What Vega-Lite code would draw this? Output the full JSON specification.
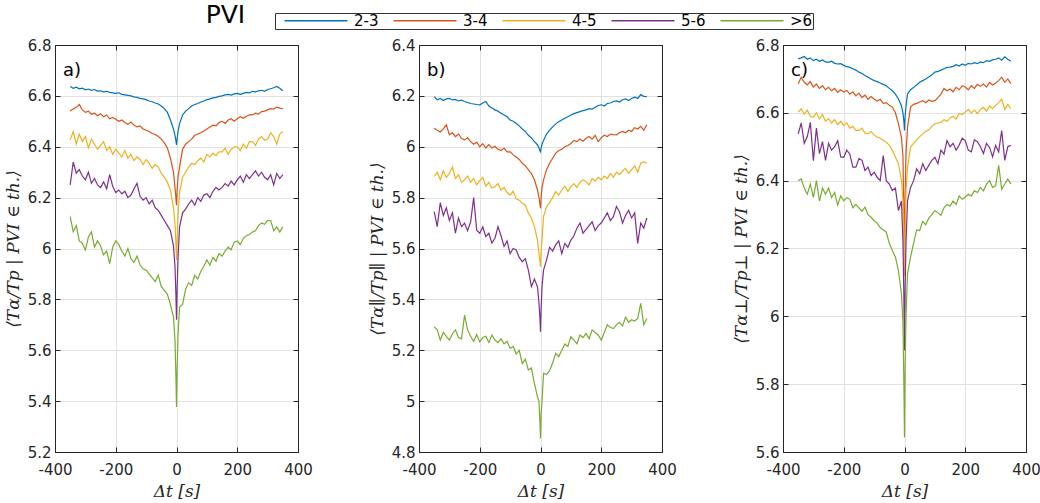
{
  "$schema": "https://vega.github.io/schema/vega-lite/v6.json",
  "background": "white",
  "padding": {"left": 3, "top": 2, "right": 2, "bottom": 2},
  "title": {"text": "PVI", "anchor": "start", "dx": 202, "dy": 15, "offset": 0, "fontSize": 25, "font": "DejaVu Sans", "fontWeight": "normal", "color": "black"},
  "data": {"values": [
{"p":"a","t":-350,"2-3":6.637,"3-4":6.541,"4-5":6.427,"5-6":6.25,">6":6.125},
{"p":"a","t":-340,"2-3":6.63,"3-4":6.548,"4-5":6.46,"5-6":6.34,">6":6.066},
{"p":"a","t":-330,"2-3":6.634,"3-4":6.555,"4-5":6.41,"5-6":6.296,">6":6.09},
{"p":"a","t":-320,"2-3":6.628,"3-4":6.566,"4-5":6.45,"5-6":6.31,">6":6.03},
{"p":"a","t":-310,"2-3":6.63,"3-4":6.545,"4-5":6.42,"5-6":6.285,">6":6.02},
{"p":"a","t":-300,"2-3":6.624,"3-4":6.535,"4-5":6.44,"5-6":6.27,">6":5.994},
{"p":"a","t":-290,"2-3":6.627,"3-4":6.54,"4-5":6.395,"5-6":6.3,">6":6.045},
{"p":"a","t":-280,"2-3":6.622,"3-4":6.528,"4-5":6.43,"5-6":6.256,">6":6.065},
{"p":"a","t":-270,"2-3":6.625,"3-4":6.532,"4-5":6.41,"5-6":6.275,">6":6.005},
{"p":"a","t":-260,"2-3":6.619,"3-4":6.522,"4-5":6.39,"5-6":6.25,">6":6.03},
{"p":"a","t":-250,"2-3":6.62,"3-4":6.53,"4-5":6.405,"5-6":6.24,">6":6.01},
{"p":"a","t":-240,"2-3":6.616,"3-4":6.518,"4-5":6.42,"5-6":6.262,">6":5.975},
{"p":"a","t":-230,"2-3":6.618,"3-4":6.525,"4-5":6.385,"5-6":6.235,">6":5.99},
{"p":"a","t":-220,"2-3":6.614,"3-4":6.51,"4-5":6.4,"5-6":6.29,">6":5.94},
{"p":"a","t":-210,"2-3":6.612,"3-4":6.515,"4-5":6.37,"5-6":6.245,">6":6.005},
{"p":"a","t":-200,"2-3":6.61,"3-4":6.508,"4-5":6.39,"5-6":6.22,">6":6.03},
{"p":"a","t":-190,"2-3":6.612,"3-4":6.5,"4-5":6.375,"5-6":6.23,">6":6.015},
{"p":"a","t":-180,"2-3":6.606,"3-4":6.505,"4-5":6.36,"5-6":6.215,">6":5.99},
{"p":"a","t":-170,"2-3":6.604,"3-4":6.495,"4-5":6.385,"5-6":6.225,">6":5.97},
{"p":"a","t":-160,"2-3":6.602,"3-4":6.488,"4-5":6.355,"5-6":6.2,">6":6.0},
{"p":"a","t":-150,"2-3":6.6,"3-4":6.497,"4-5":6.37,"5-6":6.21,">6":5.96},
{"p":"a","t":-140,"2-3":6.596,"3-4":6.485,"4-5":6.345,"5-6":6.235,">6":5.945},
{"p":"a","t":-130,"2-3":6.594,"3-4":6.478,"4-5":6.36,"5-6":6.256,">6":5.97},
{"p":"a","t":-120,"2-3":6.59,"3-4":6.482,"4-5":6.35,"5-6":6.205,">6":5.935},
{"p":"a","t":-110,"2-3":6.588,"3-4":6.47,"4-5":6.33,"5-6":6.19,">6":5.92},
{"p":"a","t":-100,"2-3":6.585,"3-4":6.465,"4-5":6.35,"5-6":6.2,">6":5.915},
{"p":"a","t":-90,"2-3":6.58,"3-4":6.46,"4-5":6.335,"5-6":6.175,">6":5.9},
{"p":"a","t":-80,"2-3":6.577,"3-4":6.452,"4-5":6.315,"5-6":6.19,">6":5.885},
{"p":"a","t":-70,"2-3":6.572,"3-4":6.448,"4-5":6.33,"5-6":6.16,">6":5.87},
{"p":"a","t":-60,"2-3":6.568,"3-4":6.44,"4-5":6.32,"5-6":6.15,">6":5.895},
{"p":"a","t":-50,"2-3":6.56,"3-4":6.43,"4-5":6.295,"5-6":6.13,">6":5.85},
{"p":"a","t":-40,"2-3":6.55,"3-4":6.415,"4-5":6.28,"5-6":6.11,">6":5.835},
{"p":"a","t":-30,"2-3":6.535,"3-4":6.395,"4-5":6.26,"5-6":6.09,">6":5.82},
{"p":"a","t":-20,"2-3":6.505,"3-4":6.355,"4-5":6.23,"5-6":6.07,">6":5.78},
{"p":"a","t":-10,"2-3":6.47,"3-4":6.3,"4-5":6.16,"5-6":6.01,">6":5.73},
{"p":"a","t":-5,"2-3":6.445,"3-4":6.24,"4-5":6.1,"5-6":5.93,">6":5.64},
{"p":"a","t":-2,"2-3":6.425,"3-4":6.2,"4-5":6.02,"5-6":5.82,">6":5.5},
{"p":"a","t":0,"2-3":6.407,"3-4":6.17,"4-5":5.955,"5-6":5.72,">6":5.377},
{"p":"a","t":2,"2-3":6.43,"3-4":6.23,"4-5":6.03,"5-6":5.84,">6":5.52},
{"p":"a","t":5,"2-3":6.46,"3-4":6.28,"4-5":6.13,"5-6":5.96,">6":5.66},
{"p":"a","t":10,"2-3":6.49,"3-4":6.32,"4-5":6.22,"5-6":6.085,">6":5.77},
{"p":"a","t":20,"2-3":6.525,"3-4":6.39,"4-5":6.28,"5-6":6.14,">6":5.78},
{"p":"a","t":30,"2-3":6.54,"3-4":6.41,"4-5":6.3,"5-6":6.155,">6":5.84},
{"p":"a","t":40,"2-3":6.55,"3-4":6.42,"4-5":6.32,"5-6":6.175,">6":5.865},
{"p":"a","t":50,"2-3":6.56,"3-4":6.43,"4-5":6.335,"5-6":6.19,">6":5.855},
{"p":"a","t":60,"2-3":6.566,"3-4":6.445,"4-5":6.33,"5-6":6.17,">6":5.895},
{"p":"a","t":70,"2-3":6.57,"3-4":6.45,"4-5":6.345,"5-6":6.2,">6":5.88},
{"p":"a","t":80,"2-3":6.576,"3-4":6.455,"4-5":6.355,"5-6":6.185,">6":5.91},
{"p":"a","t":90,"2-3":6.58,"3-4":6.462,"4-5":6.34,"5-6":6.21,">6":5.93},
{"p":"a","t":100,"2-3":6.585,"3-4":6.47,"4-5":6.37,"5-6":6.215,">6":5.955},
{"p":"a","t":110,"2-3":6.588,"3-4":6.478,"4-5":6.36,"5-6":6.2,">6":5.935},
{"p":"a","t":120,"2-3":6.592,"3-4":6.485,"4-5":6.375,"5-6":6.225,">6":5.965},
{"p":"a","t":130,"2-3":6.594,"3-4":6.482,"4-5":6.365,"5-6":6.24,">6":5.95},
{"p":"a","t":140,"2-3":6.598,"3-4":6.495,"4-5":6.38,"5-6":6.23,">6":5.98},
{"p":"a","t":150,"2-3":6.6,"3-4":6.5,"4-5":6.38,"5-6":6.24,">6":5.97},
{"p":"a","t":160,"2-3":6.604,"3-4":6.492,"4-5":6.395,"5-6":6.255,">6":5.99},
{"p":"a","t":170,"2-3":6.606,"3-4":6.505,"4-5":6.37,"5-6":6.245,">6":6.005},
{"p":"a","t":180,"2-3":6.603,"3-4":6.51,"4-5":6.39,"5-6":6.265,">6":5.995},
{"p":"a","t":190,"2-3":6.608,"3-4":6.5,"4-5":6.4,"5-6":6.25,">6":6.025},
{"p":"a","t":200,"2-3":6.61,"3-4":6.51,"4-5":6.4,"5-6":6.27,">6":6.03},
{"p":"a","t":210,"2-3":6.606,"3-4":6.518,"4-5":6.385,"5-6":6.285,">6":6.015},
{"p":"a","t":220,"2-3":6.61,"3-4":6.512,"4-5":6.41,"5-6":6.26,">6":6.04},
{"p":"a","t":230,"2-3":6.614,"3-4":6.52,"4-5":6.395,"5-6":6.29,">6":6.05},
{"p":"a","t":240,"2-3":6.612,"3-4":6.525,"4-5":6.42,"5-6":6.275,">6":6.055},
{"p":"a","t":250,"2-3":6.618,"3-4":6.525,"4-5":6.42,"5-6":6.29,">6":6.065},
{"p":"a","t":260,"2-3":6.616,"3-4":6.532,"4-5":6.405,"5-6":6.305,">6":6.07},
{"p":"a","t":270,"2-3":6.62,"3-4":6.528,"4-5":6.43,"5-6":6.285,">6":6.09},
{"p":"a","t":280,"2-3":6.622,"3-4":6.538,"4-5":6.44,"5-6":6.3,">6":6.1},
{"p":"a","t":290,"2-3":6.618,"3-4":6.54,"4-5":6.425,"5-6":6.28,">6":6.095},
{"p":"a","t":300,"2-3":6.625,"3-4":6.545,"4-5":6.43,"5-6":6.27,">6":6.11},
{"p":"a","t":310,"2-3":6.628,"3-4":6.55,"4-5":6.455,"5-6":6.29,">6":6.11},
{"p":"a","t":320,"2-3":6.632,"3-4":6.548,"4-5":6.44,"5-6":6.25,">6":6.07},
{"p":"a","t":330,"2-3":6.637,"3-4":6.556,"4-5":6.41,"5-6":6.295,">6":6.085},
{"p":"a","t":340,"2-3":6.63,"3-4":6.552,"4-5":6.45,"5-6":6.275,">6":6.065},
{"p":"a","t":350,"2-3":6.62,"3-4":6.55,"4-5":6.46,"5-6":6.29,">6":6.085},
{"p":"b","t":-350,"2-3":6.197,"3-4":6.073,"4-5":5.883,"5-6":5.745,">6":5.292},
{"p":"b","t":-340,"2-3":6.185,"3-4":6.065,"4-5":5.9,"5-6":5.686,">6":5.28},
{"p":"b","t":-330,"2-3":6.19,"3-4":6.058,"4-5":5.87,"5-6":5.78,">6":5.24},
{"p":"b","t":-320,"2-3":6.182,"3-4":6.07,"4-5":5.905,"5-6":5.73,">6":5.27},
{"p":"b","t":-310,"2-3":6.188,"3-4":6.086,"4-5":5.88,"5-6":5.76,">6":5.255},
{"p":"b","t":-300,"2-3":6.19,"3-4":6.047,"4-5":5.895,"5-6":5.71,">6":5.24},
{"p":"b","t":-290,"2-3":6.184,"3-4":6.055,"4-5":5.92,"5-6":5.74,">6":5.265},
{"p":"b","t":-280,"2-3":6.186,"3-4":6.04,"4-5":5.875,"5-6":5.66,">6":5.28},
{"p":"b","t":-270,"2-3":6.18,"3-4":6.05,"4-5":5.89,"5-6":5.72,">6":5.25},
{"p":"b","t":-260,"2-3":6.183,"3-4":6.032,"4-5":5.86,"5-6":5.686,">6":5.245},
{"p":"b","t":-250,"2-3":6.178,"3-4":6.027,"4-5":5.87,"5-6":5.7,">6":5.338},
{"p":"b","t":-240,"2-3":6.174,"3-4":6.035,"4-5":5.885,"5-6":5.67,">6":5.28},
{"p":"b","t":-230,"2-3":6.17,"3-4":6.02,"4-5":5.86,"5-6":5.705,">6":5.255},
{"p":"b","t":-220,"2-3":6.168,"3-4":6.01,"4-5":5.875,"5-6":5.8,">6":5.235},
{"p":"b","t":-210,"2-3":6.166,"3-4":6.018,"4-5":5.85,"5-6":5.672,">6":5.262},
{"p":"b","t":-200,"2-3":6.165,"3-4":6.0,"4-5":5.867,"5-6":5.66,">6":5.233},
{"p":"b","t":-190,"2-3":6.172,"3-4":6.012,"4-5":5.88,"5-6":5.685,">6":5.25},
{"p":"b","t":-180,"2-3":6.178,"3-4":5.995,"4-5":5.845,"5-6":5.647,">6":5.255},
{"p":"b","t":-170,"2-3":6.16,"3-4":6.008,"4-5":5.86,"5-6":5.66,">6":5.23},
{"p":"b","t":-160,"2-3":6.152,"3-4":5.995,"4-5":5.838,"5-6":5.621,">6":5.26},
{"p":"b","t":-150,"2-3":6.145,"3-4":6.002,"4-5":5.843,"5-6":5.64,">6":5.24},
{"p":"b","t":-140,"2-3":6.14,"3-4":5.99,"4-5":5.855,"5-6":5.686,">6":5.23},
{"p":"b","t":-130,"2-3":6.132,"3-4":5.985,"4-5":5.83,"5-6":5.65,">6":5.245},
{"p":"b","t":-120,"2-3":6.125,"3-4":5.995,"4-5":5.84,"5-6":5.608,">6":5.225},
{"p":"b","t":-110,"2-3":6.118,"3-4":5.98,"4-5":5.82,"5-6":5.63,">6":5.235},
{"p":"b","t":-100,"2-3":6.105,"3-4":5.98,"4-5":5.81,"5-6":5.58,">6":5.207},
{"p":"b","t":-90,"2-3":6.1,"3-4":5.968,"4-5":5.825,"5-6":5.6,">6":5.215},
{"p":"b","t":-80,"2-3":6.092,"3-4":5.96,"4-5":5.795,"5-6":5.594,">6":5.185},
{"p":"b","t":-70,"2-3":6.082,"3-4":5.95,"4-5":5.79,"5-6":5.565,">6":5.2},
{"p":"b","t":-60,"2-3":6.07,"3-4":5.935,"4-5":5.778,"5-6":5.548,">6":5.148},
{"p":"b","t":-50,"2-3":6.06,"3-4":5.925,"4-5":5.77,"5-6":5.56,">6":5.165},
{"p":"b","t":-40,"2-3":6.045,"3-4":5.91,"4-5":5.74,"5-6":5.515,">6":5.122},
{"p":"b","t":-30,"2-3":6.035,"3-4":5.895,"4-5":5.72,"5-6":5.45,">6":5.13},
{"p":"b","t":-20,"2-3":6.02,"3-4":5.87,"4-5":5.686,"5-6":5.48,">6":5.07},
{"p":"b","t":-10,"2-3":6.008,"3-4":5.83,"4-5":5.633,"5-6":5.45,">6":5.017},
{"p":"b","t":-5,"2-3":5.995,"3-4":5.8,"4-5":5.58,"5-6":5.385,">6":5.0},
{"p":"b","t":-2,"2-3":5.985,"3-4":5.775,"4-5":5.55,"5-6":5.33,">6":4.92},
{"p":"b","t":0,"2-3":5.98,"3-4":5.758,"4-5":5.528,"5-6":5.273,">6":4.853},
{"p":"b","t":2,"2-3":5.995,"3-4":5.8,"4-5":5.59,"5-6":5.36,">6":4.95},
{"p":"b","t":5,"2-3":6.01,"3-4":5.84,"4-5":5.633,"5-6":5.45,">6":5.0},
{"p":"b","t":10,"2-3":6.025,"3-4":5.87,"4-5":5.725,"5-6":5.515,">6":5.109},
{"p":"b","t":20,"2-3":6.05,"3-4":5.91,"4-5":5.765,"5-6":5.555,">6":5.105},
{"p":"b","t":30,"2-3":6.065,"3-4":5.935,"4-5":5.78,"5-6":5.605,">6":5.12},
{"p":"b","t":40,"2-3":6.078,"3-4":5.955,"4-5":5.8,"5-6":5.59,">6":5.15},
{"p":"b","t":50,"2-3":6.09,"3-4":5.975,"4-5":5.824,"5-6":5.614,">6":5.188},
{"p":"b","t":60,"2-3":6.098,"3-4":5.985,"4-5":5.81,"5-6":5.63,">6":5.175},
{"p":"b","t":70,"2-3":6.105,"3-4":5.99,"4-5":5.83,"5-6":5.58,">6":5.2},
{"p":"b","t":80,"2-3":6.112,"3-4":6.0,"4-5":5.845,"5-6":5.62,">6":5.225},
{"p":"b","t":90,"2-3":6.118,"3-4":6.005,"4-5":5.825,"5-6":5.605,">6":5.215},
{"p":"b","t":100,"2-3":6.125,"3-4":6.013,"4-5":5.843,"5-6":5.633,">6":5.253},
{"p":"b","t":110,"2-3":6.13,"3-4":6.025,"4-5":5.855,"5-6":5.65,">6":5.24},
{"p":"b","t":120,"2-3":6.134,"3-4":6.02,"4-5":5.84,"5-6":5.68,">6":5.225},
{"p":"b","t":130,"2-3":6.138,"3-4":6.03,"4-5":5.86,"5-6":5.7,">6":5.26},
{"p":"b","t":140,"2-3":6.142,"3-4":6.022,"4-5":5.87,"5-6":5.66,">6":5.25},
{"p":"b","t":150,"2-3":6.145,"3-4":6.033,"4-5":5.863,"5-6":5.675,">6":5.266},
{"p":"b","t":160,"2-3":6.15,"3-4":6.04,"4-5":5.85,"5-6":5.69,">6":5.245},
{"p":"b","t":170,"2-3":6.148,"3-4":6.03,"4-5":5.875,"5-6":5.705,">6":5.28},
{"p":"b","t":180,"2-3":6.155,"3-4":6.045,"4-5":5.865,"5-6":5.67,">6":5.27},
{"p":"b","t":190,"2-3":6.162,"3-4":6.02,"4-5":5.88,"5-6":5.69,">6":5.26},
{"p":"b","t":200,"2-3":6.165,"3-4":6.035,"4-5":5.87,"5-6":5.7,">6":5.24},
{"p":"b","t":210,"2-3":6.16,"3-4":6.045,"4-5":5.885,"5-6":5.72,">6":5.27},
{"p":"b","t":220,"2-3":6.17,"3-4":6.04,"4-5":5.875,"5-6":5.74,">6":5.3},
{"p":"b","t":230,"2-3":6.172,"3-4":6.05,"4-5":5.895,"5-6":5.71,">6":5.29},
{"p":"b","t":240,"2-3":6.178,"3-4":6.048,"4-5":5.88,"5-6":5.725,">6":5.285},
{"p":"b","t":250,"2-3":6.18,"3-4":6.047,"4-5":5.9,"5-6":5.765,">6":5.3},
{"p":"b","t":260,"2-3":6.176,"3-4":6.055,"4-5":5.89,"5-6":5.745,">6":5.31},
{"p":"b","t":270,"2-3":6.185,"3-4":6.06,"4-5":5.905,"5-6":5.7,">6":5.295},
{"p":"b","t":280,"2-3":6.188,"3-4":6.055,"4-5":5.915,"5-6":5.73,">6":5.33},
{"p":"b","t":290,"2-3":6.182,"3-4":6.065,"4-5":5.895,"5-6":5.75,">6":5.31},
{"p":"b","t":300,"2-3":6.19,"3-4":6.06,"4-5":5.91,"5-6":5.72,">6":5.32},
{"p":"b","t":310,"2-3":6.195,"3-4":6.075,"4-5":5.925,"5-6":5.74,">6":5.315},
{"p":"b","t":320,"2-3":6.19,"3-4":6.07,"4-5":5.9,"5-6":5.62,">6":5.325},
{"p":"b","t":330,"2-3":6.205,"3-4":6.08,"4-5":5.935,"5-6":5.7,">6":5.384},
{"p":"b","t":340,"2-3":6.198,"3-4":6.065,"4-5":5.94,"5-6":5.68,">6":5.3},
{"p":"b","t":350,"2-3":6.197,"3-4":6.086,"4-5":5.935,"5-6":5.72,">6":5.325},
{"p":"c","t":-350,"2-3":6.759,"3-4":6.686,"4-5":6.602,"5-6":6.538,">6":6.4},
{"p":"c","t":-340,"2-3":6.762,"3-4":6.705,"4-5":6.612,"5-6":6.57,">6":6.405},
{"p":"c","t":-330,"2-3":6.766,"3-4":6.69,"4-5":6.596,"5-6":6.51,">6":6.378},
{"p":"c","t":-320,"2-3":6.758,"3-4":6.682,"4-5":6.608,"5-6":6.53,">6":6.36},
{"p":"c","t":-310,"2-3":6.762,"3-4":6.692,"4-5":6.59,"5-6":6.572,">6":6.39},
{"p":"c","t":-300,"2-3":6.754,"3-4":6.676,"4-5":6.587,"5-6":6.459,">6":6.351},
{"p":"c","t":-290,"2-3":6.758,"3-4":6.685,"4-5":6.6,"5-6":6.555,">6":6.4},
{"p":"c","t":-280,"2-3":6.752,"3-4":6.672,"4-5":6.582,"5-6":6.48,">6":6.34},
{"p":"c","t":-270,"2-3":6.756,"3-4":6.68,"4-5":6.595,"5-6":6.515,">6":6.378},
{"p":"c","t":-260,"2-3":6.75,"3-4":6.668,"4-5":6.575,"5-6":6.46,">6":6.36},
{"p":"c","t":-250,"2-3":6.749,"3-4":6.675,"4-5":6.583,"5-6":6.51,">6":6.378},
{"p":"c","t":-240,"2-3":6.752,"3-4":6.665,"4-5":6.57,"5-6":6.49,">6":6.35},
{"p":"c","t":-230,"2-3":6.746,"3-4":6.672,"4-5":6.58,"5-6":6.5,">6":6.365},
{"p":"c","t":-220,"2-3":6.744,"3-4":6.66,"4-5":6.565,"5-6":6.518,">6":6.328},
{"p":"c","t":-210,"2-3":6.745,"3-4":6.668,"4-5":6.575,"5-6":6.47,">6":6.355},
{"p":"c","t":-200,"2-3":6.74,"3-4":6.661,"4-5":6.563,"5-6":6.469,">6":6.341},
{"p":"c","t":-190,"2-3":6.736,"3-4":6.666,"4-5":6.57,"5-6":6.49,">6":6.35},
{"p":"c","t":-180,"2-3":6.734,"3-4":6.655,"4-5":6.555,"5-6":6.478,">6":6.345},
{"p":"c","t":-170,"2-3":6.73,"3-4":6.662,"4-5":6.56,"5-6":6.44,">6":6.32},
{"p":"c","t":-160,"2-3":6.726,"3-4":6.65,"4-5":6.548,"5-6":6.44,">6":6.33},
{"p":"c","t":-150,"2-3":6.72,"3-4":6.658,"4-5":6.548,"5-6":6.465,">6":6.32},
{"p":"c","t":-140,"2-3":6.716,"3-4":6.645,"4-5":6.555,"5-6":6.46,">6":6.31},
{"p":"c","t":-130,"2-3":6.71,"3-4":6.652,"4-5":6.54,"5-6":6.43,">6":6.322},
{"p":"c","t":-120,"2-3":6.705,"3-4":6.64,"4-5":6.538,"5-6":6.44,">6":6.3},
{"p":"c","t":-110,"2-3":6.7,"3-4":6.648,"4-5":6.545,"5-6":6.415,">6":6.292},
{"p":"c","t":-100,"2-3":6.695,"3-4":6.641,"4-5":6.535,"5-6":6.425,">6":6.282},
{"p":"c","t":-90,"2-3":6.692,"3-4":6.635,"4-5":6.528,"5-6":6.41,">6":6.275},
{"p":"c","t":-80,"2-3":6.688,"3-4":6.64,"4-5":6.525,"5-6":6.4,">6":6.262},
{"p":"c","t":-70,"2-3":6.684,"3-4":6.628,"4-5":6.52,"5-6":6.474,">6":6.255},
{"p":"c","t":-60,"2-3":6.68,"3-4":6.63,"4-5":6.513,"5-6":6.4,">6":6.248},
{"p":"c","t":-50,"2-3":6.672,"3-4":6.622,"4-5":6.505,"5-6":6.39,">6":6.215},
{"p":"c","t":-40,"2-3":6.665,"3-4":6.617,"4-5":6.489,"5-6":6.371,">6":6.194},
{"p":"c","t":-30,"2-3":6.655,"3-4":6.6,"4-5":6.47,"5-6":6.378,">6":6.175},
{"p":"c","t":-20,"2-3":6.641,"3-4":6.568,"4-5":6.45,"5-6":6.312,">6":6.135},
{"p":"c","t":-10,"2-3":6.62,"3-4":6.528,"4-5":6.4,"5-6":6.34,">6":6.066},
{"p":"c","t":-5,"2-3":6.6,"3-4":6.47,"4-5":6.34,"5-6":6.22,">6":5.98},
{"p":"c","t":-2,"2-3":6.575,"3-4":6.3,"4-5":6.2,"5-6":6.05,">6":5.8},
{"p":"c","t":0,"2-3":6.548,"3-4":6.15,"4-5":6.12,"5-6":5.899,">6":5.643},
{"p":"c","t":2,"2-3":6.59,"3-4":6.35,"4-5":6.25,"5-6":6.08,">6":5.85},
{"p":"c","t":5,"2-3":6.62,"3-4":6.48,"4-5":6.37,"5-6":6.22,">6":6.0},
{"p":"c","t":10,"2-3":6.656,"3-4":6.558,"4-5":6.44,"5-6":6.341,">6":6.125},
{"p":"c","t":20,"2-3":6.668,"3-4":6.617,"4-5":6.5,"5-6":6.38,">6":6.175},
{"p":"c","t":30,"2-3":6.675,"3-4":6.625,"4-5":6.51,"5-6":6.4,">6":6.215},
{"p":"c","t":40,"2-3":6.682,"3-4":6.628,"4-5":6.52,"5-6":6.435,">6":6.255},
{"p":"c","t":50,"2-3":6.69,"3-4":6.632,"4-5":6.53,"5-6":6.42,">6":6.253},
{"p":"c","t":60,"2-3":6.695,"3-4":6.636,"4-5":6.538,"5-6":6.45,">6":6.28},
{"p":"c","t":70,"2-3":6.7,"3-4":6.63,"4-5":6.545,"5-6":6.43,">6":6.27},
{"p":"c","t":80,"2-3":6.706,"3-4":6.638,"4-5":6.55,"5-6":6.445,">6":6.29},
{"p":"c","t":90,"2-3":6.712,"3-4":6.634,"4-5":6.56,"5-6":6.46,">6":6.3},
{"p":"c","t":100,"2-3":6.72,"3-4":6.636,"4-5":6.568,"5-6":6.469,">6":6.312},
{"p":"c","t":110,"2-3":6.722,"3-4":6.645,"4-5":6.57,"5-6":6.45,">6":6.305},
{"p":"c","t":120,"2-3":6.726,"3-4":6.655,"4-5":6.572,"5-6":6.49,">6":6.298},
{"p":"c","t":130,"2-3":6.73,"3-4":6.672,"4-5":6.58,"5-6":6.478,">6":6.32},
{"p":"c","t":140,"2-3":6.734,"3-4":6.665,"4-5":6.575,"5-6":6.518,">6":6.33},
{"p":"c","t":150,"2-3":6.735,"3-4":6.67,"4-5":6.585,"5-6":6.5,">6":6.325},
{"p":"c","t":160,"2-3":6.737,"3-4":6.662,"4-5":6.59,"5-6":6.51,">6":6.34},
{"p":"c","t":170,"2-3":6.742,"3-4":6.675,"4-5":6.582,"5-6":6.49,">6":6.33},
{"p":"c","t":180,"2-3":6.738,"3-4":6.668,"4-5":6.598,"5-6":6.505,">6":6.355},
{"p":"c","t":190,"2-3":6.744,"3-4":6.68,"4-5":6.595,"5-6":6.525,">6":6.345},
{"p":"c","t":200,"2-3":6.74,"3-4":6.676,"4-5":6.602,"5-6":6.518,">6":6.351},
{"p":"c","t":210,"2-3":6.746,"3-4":6.668,"4-5":6.61,"5-6":6.49,">6":6.36},
{"p":"c","t":220,"2-3":6.744,"3-4":6.68,"4-5":6.6,"5-6":6.485,">6":6.355},
{"p":"c","t":230,"2-3":6.748,"3-4":6.672,"4-5":6.608,"5-6":6.52,">6":6.37},
{"p":"c","t":240,"2-3":6.745,"3-4":6.684,"4-5":6.598,"5-6":6.515,">6":6.365},
{"p":"c","t":250,"2-3":6.75,"3-4":6.678,"4-5":6.61,"5-6":6.5,">6":6.38},
{"p":"c","t":260,"2-3":6.748,"3-4":6.685,"4-5":6.616,"5-6":6.48,">6":6.37},
{"p":"c","t":270,"2-3":6.754,"3-4":6.676,"4-5":6.605,"5-6":6.51,">6":6.39},
{"p":"c","t":280,"2-3":6.752,"3-4":6.69,"4-5":6.62,"5-6":6.498,">6":6.4},
{"p":"c","t":290,"2-3":6.756,"3-4":6.682,"4-5":6.612,"5-6":6.47,">6":6.38},
{"p":"c","t":300,"2-3":6.758,"3-4":6.688,"4-5":6.622,"5-6":6.504,">6":6.385},
{"p":"c","t":310,"2-3":6.762,"3-4":6.695,"4-5":6.63,"5-6":6.485,">6":6.445},
{"p":"c","t":320,"2-3":6.755,"3-4":6.705,"4-5":6.64,"5-6":6.548,">6":6.375},
{"p":"c","t":330,"2-3":6.765,"3-4":6.69,"4-5":6.61,"5-6":6.46,">6":6.39},
{"p":"c","t":340,"2-3":6.758,"3-4":6.7,"4-5":6.625,"5-6":6.5,">6":6.405},
{"p":"c","t":350,"2-3":6.752,"3-4":6.686,"4-5":6.612,"5-6":6.504,">6":6.39}
  ]},
  "transform": [{"fold": ["2-3", "3-4", "4-5", "5-6", ">6"], "as": ["PVI", "v"]}],
  "spacing": 121,
  "bounds": "flush",
  "hconcat": [
    {
      "width": 243,
      "height": 407,
      "title": {"text": "a)", "anchor": "start", "frame": "group", "dx": 8, "offset": -42},
      "transform": [{"filter": "datum.p == 'a'"}],
      "layer": [
        {
          "mark": {"type": "line", "strokeWidth": 1.2, "clip": true},
          "encoding": {
            "x": {"field": "t", "type": "quantitative", "scale": {"domain": [-400, 400], "nice": false},
                  "axis": {"values": [-400, -200, 0, 200, 400], "title": "Δt [s]",
                           "gridOpacity": {"condition": {"test": "abs(datum.value) == 400", "value": 0}, "value": 1}}},
            "y": {"field": "v", "type": "quantitative", "scale": {"domain": [5.2, 6.8], "nice": false, "zero": false},
                  "axis": {"values": [5.2, 5.4, 5.6, 5.8, 6, 6.2, 6.4, 6.6, 6.8], "title": "⟨Tα/Tp | PVI ∈ th.⟩",
                           "gridOpacity": {"condition": {"test": "datum.value == 5.2 || datum.value == 6.8", "value": 0}, "value": 1}}},
            "color": {"field": "PVI", "type": "nominal",
                      "scale": {"domain": ["2-3", "3-4", "4-5", "5-6", ">6"], "range": ["#0072BD", "#D95319", "#EDB120", "#7E2F8E", "#77AC30"]}}
          }
        },
        {
          "mark": {"type": "line", "opacity": 0},
          "encoding": {
            "x": {"field": "t", "type": "quantitative", "scale": {"domain": [-400, 400], "nice": false},
                  "axis": {"orient": "top", "values": [-400, -200, 0, 200, 400], "labels": false, "title": null, "grid": false}},
            "y": {"field": "v", "type": "quantitative", "scale": {"domain": [5.2, 6.8], "nice": false, "zero": false},
                  "axis": {"orient": "right", "values": [5.2, 5.4, 5.6, 5.8, 6, 6.2, 6.4, 6.6, 6.8], "labels": false, "title": null, "grid": false}},
            "detail": {"field": "PVI"}
          }
        }
      ],
      "resolve": {"axis": {"x": "independent", "y": "independent"}}
    },
    {
      "width": 243,
      "height": 407,
      "title": {"text": "b)", "anchor": "start", "frame": "group", "dx": 8, "offset": -42},
      "transform": [{"filter": "datum.p == 'b'"}],
      "layer": [
        {
          "mark": {"type": "line", "strokeWidth": 1.2, "clip": true},
          "encoding": {
            "x": {"field": "t", "type": "quantitative", "scale": {"domain": [-400, 400], "nice": false},
                  "axis": {"values": [-400, -200, 0, 200, 400], "title": "Δt [s]",
                           "gridOpacity": {"condition": {"test": "abs(datum.value) == 400", "value": 0}, "value": 1}}},
            "y": {"field": "v", "type": "quantitative", "scale": {"domain": [4.8, 6.4], "nice": false, "zero": false},
                  "axis": {"values": [4.8, 5, 5.2, 5.4, 5.6, 5.8, 6, 6.2, 6.4], "title": "⟨Tα∥/Tp∥ | PVI ∈ th.⟩",
                           "gridOpacity": {"condition": {"test": "datum.value == 4.8 || datum.value == 6.4", "value": 0}, "value": 1}}},
            "color": {"field": "PVI", "type": "nominal",
                      "scale": {"domain": ["2-3", "3-4", "4-5", "5-6", ">6"], "range": ["#0072BD", "#D95319", "#EDB120", "#7E2F8E", "#77AC30"]}}
          }
        },
        {
          "mark": {"type": "line", "opacity": 0},
          "encoding": {
            "x": {"field": "t", "type": "quantitative", "scale": {"domain": [-400, 400], "nice": false},
                  "axis": {"orient": "top", "values": [-400, -200, 0, 200, 400], "labels": false, "title": null, "grid": false}},
            "y": {"field": "v", "type": "quantitative", "scale": {"domain": [4.8, 6.4], "nice": false, "zero": false},
                  "axis": {"orient": "right", "values": [4.8, 5, 5.2, 5.4, 5.6, 5.8, 6, 6.2, 6.4], "labels": false, "title": null, "grid": false}},
            "detail": {"field": "PVI"}
          }
        }
      ],
      "resolve": {"axis": {"x": "independent", "y": "independent"}}
    },
    {
      "width": 243,
      "height": 407,
      "title": {"text": "c)", "anchor": "start", "frame": "group", "dx": 8, "offset": -42},
      "transform": [{"filter": "datum.p == 'c'"}],
      "layer": [
        {
          "mark": {"type": "line", "strokeWidth": 1.2, "clip": true},
          "encoding": {
            "x": {"field": "t", "type": "quantitative", "scale": {"domain": [-400, 400], "nice": false},
                  "axis": {"values": [-400, -200, 0, 200, 400], "title": "Δt [s]",
                           "gridOpacity": {"condition": {"test": "abs(datum.value) == 400", "value": 0}, "value": 1}}},
            "y": {"field": "v", "type": "quantitative", "scale": {"domain": [5.6, 6.8], "nice": false, "zero": false},
                  "axis": {"values": [5.6, 5.8, 6, 6.2, 6.4, 6.6, 6.8], "title": "⟨Tα⊥/Tp⊥ | PVI ∈ th.⟩",
                           "gridOpacity": {"condition": {"test": "datum.value == 5.6 || datum.value == 6.8", "value": 0}, "value": 1}}},
            "color": {"field": "PVI", "type": "nominal",
                      "scale": {"domain": ["2-3", "3-4", "4-5", "5-6", ">6"], "range": ["#0072BD", "#D95319", "#EDB120", "#7E2F8E", "#77AC30"]}}
          }
        },
        {
          "mark": {"type": "line", "opacity": 0},
          "encoding": {
            "x": {"field": "t", "type": "quantitative", "scale": {"domain": [-400, 400], "nice": false},
                  "axis": {"orient": "top", "values": [-400, -200, 0, 200, 400], "labels": false, "title": null, "grid": false}},
            "y": {"field": "v", "type": "quantitative", "scale": {"domain": [5.6, 6.8], "nice": false, "zero": false},
                  "axis": {"orient": "right", "values": [5.6, 5.8, 6, 6.2, 6.4, 6.6, 6.8], "labels": false, "title": null, "grid": false}},
            "detail": {"field": "PVI"}
          }
        }
      ],
      "resolve": {"axis": {"x": "independent", "y": "independent"}}
    }
  ],
  "config": {
    "font": "DejaVu Sans",
    "view": {"stroke": "#262626", "strokeWidth": 1},
    "title": {"fontSize": 18, "font": "DejaVu Sans", "fontWeight": "normal", "color": "black"},
    "axis": {
      "domain": true,
      "domainColor": "#262626",
      "domainWidth": 1,
      "ticks": true,
      "tickColor": "#262626",
      "tickSize": -5,
      "zindex": 1,
      "gridColor": "#e2e2e2",
      "labelFont": "DejaVu Sans",
      "labelFontSize": 15,
      "labelColor": "#262626",
      "labelExpr": "'' + datum.value",
      "titleFont": "DejaVu Serif",
      "titleFontSize": 17,
      "titleFontWeight": "normal",
      "titleFontStyle": "italic",
      "titleColor": "#262626"
    },
    "axisX": {"labelPadding": 15, "titlePadding": 6, "labelFlush": false},
    "axisY": {"labelPadding": 9, "titlePadding": 5},
    "legend": {
      "orient": "none",
      "legendX": 220,
      "legendY": -32,
      "direction": "horizontal",
      "columns": 5,
      "title": null,
      "symbolType": "M0.4,0H13",
      "symbolSize": 100,
      "symbolStrokeWidth": 1.3,
      "labelFont": "DejaVu Sans",
      "labelFontSize": 15,
      "labelColor": "black",
      "labelOffset": 64,
      "columnPadding": 5,
      "strokeColor": "#333333",
      "fillColor": "white",
      "padding": 0
    }
  }
}
